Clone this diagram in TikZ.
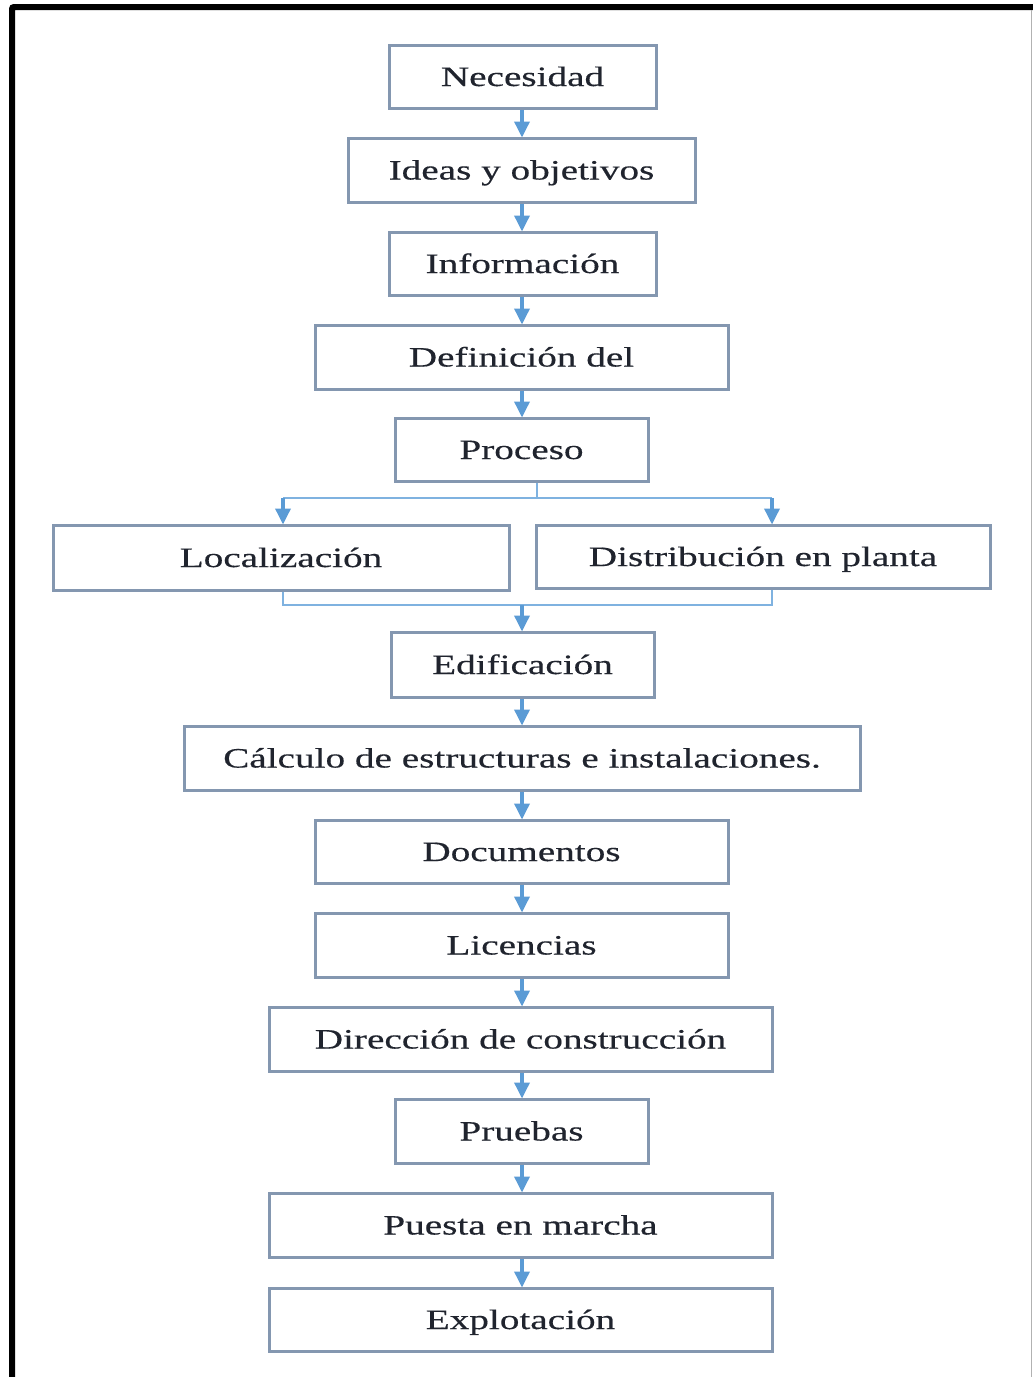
\documentclass[tikz,border=0pt]{standalone}
\usepackage{fontspec}
\setmainfont{Liberation Serif}[FakeStretch=1.40,FakeBold=0.4]
\usetikzlibrary{arrows.meta}
\definecolor{boxline}{HTML}{8497B0}
\definecolor{arrblue}{HTML}{5B9BD5}
\definecolor{linkblue}{HTML}{7FB2E0}
\definecolor{txt}{HTML}{20242E}
\tikzset{
  box/.style={draw=boxline, line width=3pt, fill=white, inner sep=0pt,
    text=txt, font=\fontsize{28}{32}\selectfont, text height=19pt, text depth=0pt},
  arr/.style={draw=arrblue, line width=3.5pt,
    -{Triangle[width=15pt,length=16pt]}, shorten >=-1pt},
  link/.style={draw=linkblue, line width=2pt},
}
\begin{document}
\begin{tikzpicture}[x=1pt,y=-1pt]
\useasboundingbox (0,0) rectangle (1033,1377);
\fill[white] (0,0) rectangle (1033,1377);
% frame
\draw[line width=6pt, black, rounded corners=2pt] (12,1380) -- (12,7) -- (1033,7);
\draw[line width=1.5pt, black!30] (1031.5,10) -- (1031.5,1377);

\node[box, minimum width=267pt, minimum height=63pt] (n1) at (522.5,76.5) {Necesidad};
\node[box, minimum width=347pt, minimum height=64pt] (n2) at (521.5,170) {Ideas y objetivos};
\node[box, minimum width=267pt, minimum height=63pt] (n3) at (522.5,263.5) {Información};
\node[box, minimum width=413pt, minimum height=64pt] (n4) at (521.5,357) {Definición del};
\node[box, minimum width=253pt, minimum height=63pt] (n5) at (521.5,449.5) {Proceso};
\node[box, minimum width=456pt, minimum height=65pt] (n6) at (281,557.5) {Localización};
\node[box, minimum width=454pt, minimum height=63pt] (n7) at (763,556.5) {Distribución en planta};
\node[box, minimum width=263pt, minimum height=65pt] (n8) at (522.5,664.5) {Edificación};
\node[box, minimum width=676pt, minimum height=64pt] (n9) at (522,758) {Cálculo de estructuras e instalaciones.};
\node[box, minimum width=413pt, minimum height=63pt] (n10) at (521.5,851.5) {Documentos};
\node[box, minimum width=413pt, minimum height=64pt] (n11) at (521.5,945) {Licencias};
\node[box, minimum width=503pt, minimum height=64pt] (n12) at (520.5,1039) {Dirección de construcción};
\node[box, minimum width=253pt, minimum height=64pt] (n13) at (521.5,1131) {Pruebas};
\node[box, minimum width=503pt, minimum height=64pt] (n14) at (520.5,1225) {Puesta en marcha};
\node[box, minimum width=503pt, minimum height=63pt] (n15) at (520.5,1319.5) {Explotación};

\coordinate (c) at (522,0);
\draw[arr] (n1.south -| c) -- (n2.north -| c);
\draw[arr] (n2.south -| c) -- (n3.north -| c);
\draw[arr] (n3.south -| c) -- (n4.north -| c);
\draw[arr] (n4.south -| c) -- (n5.north -| c);

\coordinate (ja) at (537,498);
\coordinate (jl) at (283,498);
\coordinate (jr) at (772,498);
\draw[link] (n5.south -| ja) -- (ja);
\draw[link] (jl) -- (jr);
\draw[arr] (jl) -- (jl |- n6.north);
\draw[arr] (jr) -- (jr |- n7.north);

\coordinate (kl) at (283,605);
\coordinate (kr) at (772,605);
\coordinate (km) at (522,605);
\draw[link] (kl |- n6.south) -- (kl) -- (kr) -- (kr |- n7.south);
\draw[arr] (km) -- (km |- n8.north);

\draw[arr] (n8.south -| c) -- (n9.north -| c);
\draw[arr] (n9.south -| c) -- (n10.north -| c);
\draw[arr] (n10.south -| c) -- (n11.north -| c);
\draw[arr] (n11.south -| c) -- (n12.north -| c);
\draw[arr] (n12.south -| c) -- (n13.north -| c);
\draw[arr] (n13.south -| c) -- (n14.north -| c);
\draw[arr] (n14.south -| c) -- (n15.north -| c);
\end{tikzpicture}
\end{document}
